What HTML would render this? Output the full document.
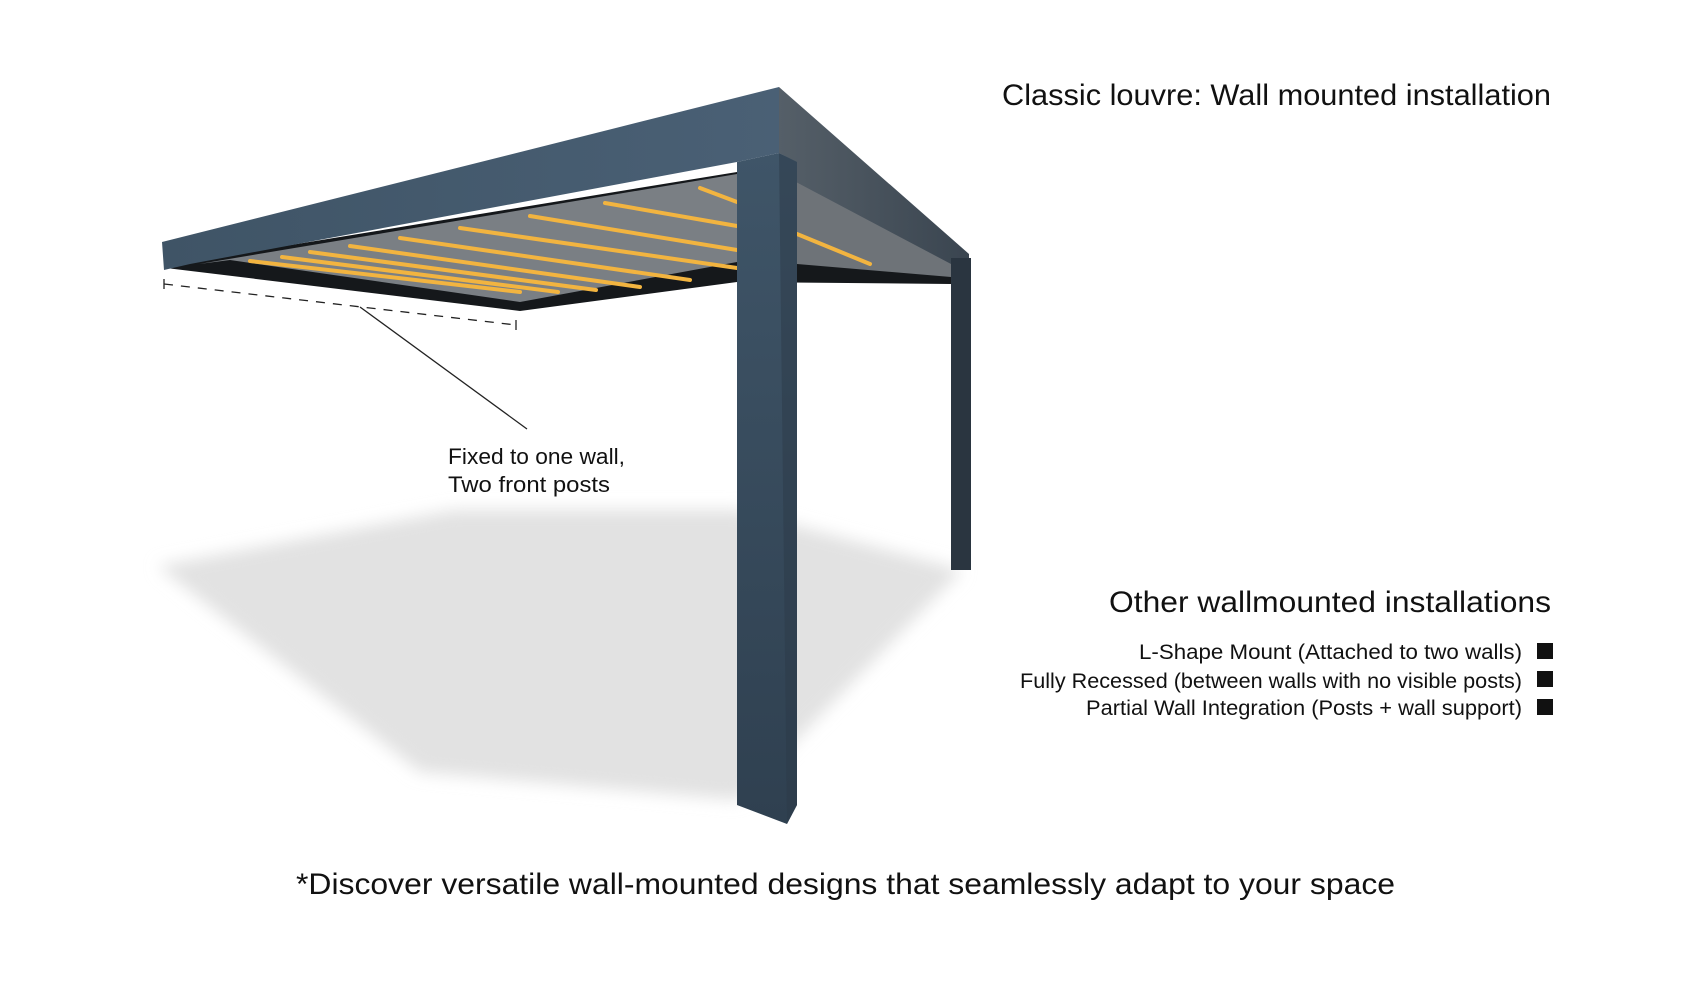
<!DOCTYPE html>
<html><head><meta charset="utf-8"><style>
html,body{margin:0;padding:0;background:#fff;}
svg{display:block;}
text{font-family:"Liberation Sans",sans-serif;fill:#111;}
</style></head><body>
<svg width="1686" height="1000" viewBox="0 0 1686 1000" xmlns="http://www.w3.org/2000/svg">
<defs>
<filter id="blur" x="-20%" y="-20%" width="140%" height="140%"><feGaussianBlur stdDeviation="8"/></filter>
<linearGradient id="fasc" x1="0" y1="0" x2="1" y2="0"><stop offset="0" stop-color="#3f5466"/><stop offset="1" stop-color="#4a6075"/></linearGradient>
<linearGradient id="side" x1="0" y1="0" x2="1" y2="0"><stop offset="0" stop-color="#555f68"/><stop offset="1" stop-color="#3a4550"/></linearGradient>
<linearGradient id="post" x1="0" y1="0" x2="0" y2="1"><stop offset="0" stop-color="#3f5568"/><stop offset="1" stop-color="#2f4050"/></linearGradient>
</defs>
<polygon points="158,566 454,510 738,510 962,570 738,800 420,772" fill="#e2e2e2" filter="url(#blur)"/>
<polygon points="166,268 520,311 737,282 951,284 951,250 737,172 199,260" fill="#15181b"/>
<polygon points="199,264 737,174 737,262 520,302 230,260" fill="#7a7f84"/>
<polygon points="797,180 951,257 951,277 797,264" fill="#6e7378"/>
<g stroke="#f2b440" stroke-width="4" stroke-linecap="round">
<line x1="250" y1="261" x2="520" y2="292"/>
<line x1="282" y1="257" x2="558" y2="292"/>
<line x1="310" y1="252" x2="596" y2="290"/>
<line x1="350" y1="246" x2="640" y2="287"/>
<line x1="400" y1="238" x2="690" y2="280"/>
<line x1="460" y1="228" x2="737" y2="268"/>
<line x1="530" y1="216" x2="737" y2="250"/>
<line x1="605" y1="203" x2="737" y2="226"/>
<line x1="700" y1="188" x2="737" y2="202"/>
<line x1="797" y1="234" x2="870" y2="264"/>
</g>
<polygon points="162,242 779,87 779,153 737,162 190,264 164,270" fill="url(#fasc)"/>
<polygon points="779,87 969,254 969,284 951,284 951,264 796,182 796,162 779,153" fill="url(#side)"/>
<rect x="951" y="258" width="20" height="312" fill="#2a3540"/>
<polygon points="737,162 779,153 797,162 797,805 787,824 737,805" fill="url(#post)"/>
<polygon points="779,153 797,162 797,805 787,824" fill="#2b3a47" opacity="0.5"/>
<line x1="164" y1="284" x2="516" y2="325" stroke="#222" stroke-width="1.3" stroke-dasharray="9,8"/>
<line x1="164" y1="279" x2="164" y2="289" stroke="#222" stroke-width="1.3"/>
<line x1="516" y1="320" x2="516" y2="330" stroke="#222" stroke-width="1.3"/>
<line x1="360" y1="307" x2="527" y2="429" stroke="#222" stroke-width="1.3"/>
<text x="1002" y="105" font-size="30" textLength="549" lengthAdjust="spacingAndGlyphs">Classic louvre: Wall mounted installation</text>
<text x="448" y="464" font-size="22" textLength="177" lengthAdjust="spacingAndGlyphs">Fixed to one wall,</text>
<text x="448" y="492" font-size="22" textLength="162" lengthAdjust="spacingAndGlyphs">Two front posts</text>
<text x="1109" y="612" font-size="30" textLength="442" lengthAdjust="spacingAndGlyphs">Other  wallmounted installations</text>
<text x="1139" y="659" font-size="21" textLength="383" lengthAdjust="spacingAndGlyphs">L-Shape Mount (Attached to two walls)</text>
<text x="1020" y="688" font-size="21" textLength="502" lengthAdjust="spacingAndGlyphs">Fully Recessed (between walls with no visible posts)</text>
<text x="1086" y="715" font-size="21" textLength="436" lengthAdjust="spacingAndGlyphs">Partial Wall Integration (Posts + wall support)</text>
<rect x="1537" y="643" width="16" height="16" fill="#111"/>
<rect x="1537" y="671" width="16" height="16" fill="#111"/>
<rect x="1537" y="699" width="16" height="16" fill="#111"/>
<text x="296" y="894" font-size="30" textLength="1099" lengthAdjust="spacingAndGlyphs">*Discover versatile wall-mounted designs that seamlessly adapt to your space</text>
</svg>
</body></html>
